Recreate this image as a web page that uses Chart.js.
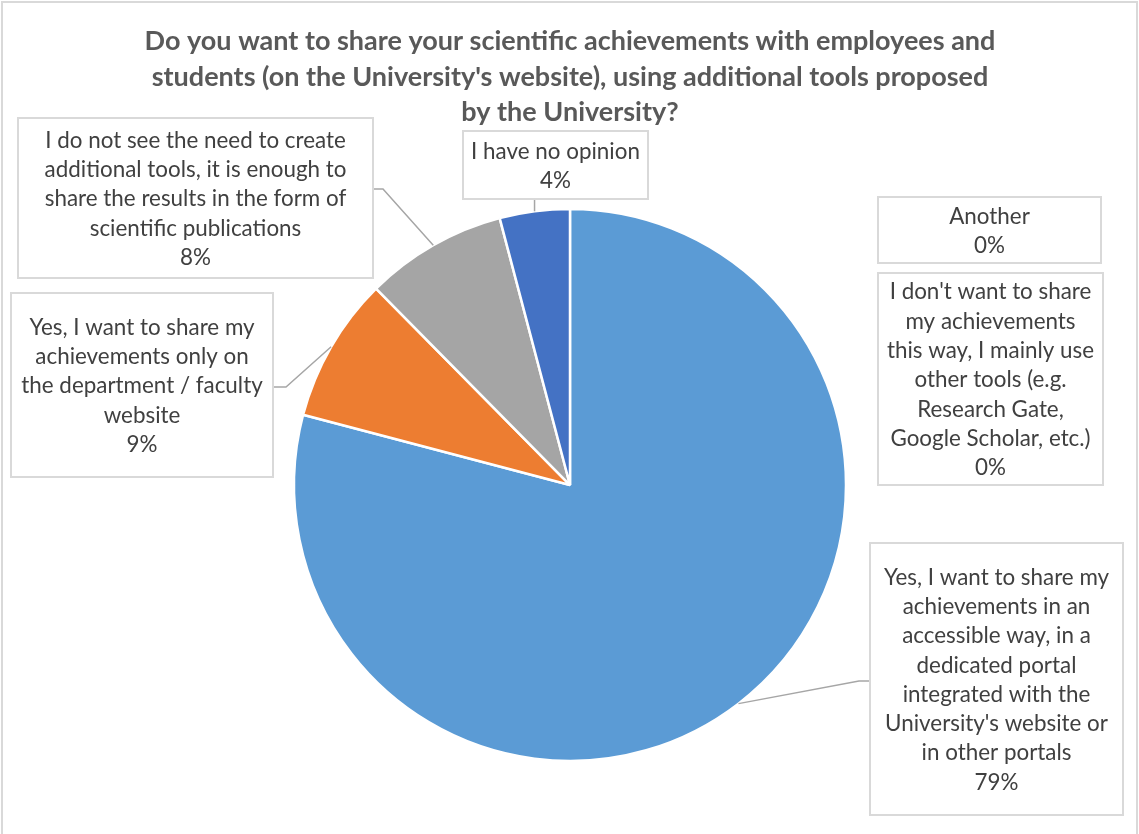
<!DOCTYPE html>
<html>
<head>
<meta charset="utf-8">
<script src="https://cdn.jsdelivr.net/npm/chart.js@4.4.1/dist/chart.umd.min.js"></script>
<style>
  html, body { margin: 0; padding: 0; background: #fff; }
  canvas { display: block; }
</style>
</head>
<body>
<canvas id="chart" width="1139" height="834"></canvas>
<script>
const TITLE = [
  'Do you want to share your scientific achievements with employees and',
  "students (on the University's website), using additional tools proposed",
  'by the University?',
];

// slice order as drawn, clockwise from 12 o'clock
const LABELS = [
  ['Yes, I want to share my', 'achievements in an', 'accessible way, in a', 'dedicated portal',
   'integrated with the', "University's website or", 'in other portals'],
  ['Yes, I want to share my', 'achievements only on', 'the department / faculty', 'website'],
  ['I do not see the need to create', 'additional tools, it is enough to',
   'share the results in the form of', 'scientific publications'],
  ['I have no opinion'],
  ['Another'],
  ["I don't want to share", 'my achievements', 'this way, I mainly use',
   'other tools (e.g.', 'Research Gate,', 'Google Scholar, etc.)'],
];
const VALUES = [79.1, 8.5, 8.3, 4.1, 0, 0];
const COLORS = ['#5b9bd5', '#ed7d31', '#a5a5a5', '#4472c4', '#ffc000', '#70ad47'];

// label box placement (x, y, w, h) and leader knee point
const BOXES = [
  { x: 870, y: 543, w: 253, h: 272, knee: [859, 681], end: [870, 681] },
  { x: 11,  y: 293, w: 262, h: 184, knee: [286, 387], end: [273, 387] },
  { x: 18,  y: 118, w: 355, h: 160, knee: [383, 189], end: [373, 189] },
  { x: 463, y: 131, w: 185, h: 68,  knee: null,       end: [534, 199] },
  { x: 878, y: 197, w: 223, h: 66 },
  { x: 878, y: 273, w: 225, h: 212 },
];

const LABEL_FONT = '22.4px Lato';
const LINE_H = 29.3;

const labelBoxes = {
  id: 'labelBoxes',
  afterDatasetsDraw(chart) {
    const ctx = chart.ctx;
    const arcs = chart.getDatasetMeta(0).data;
    ctx.save();
    // leader lines
    ctx.strokeStyle = '#a6a6a6';
    ctx.lineWidth = 1.5;
    BOXES.forEach((b, i) => {
      if (!b.end || VALUES[i] === 0) return;
      const a = arcs[i].getProps(['x', 'y', 'startAngle', 'endAngle', 'outerRadius'], true);
      const mid = (a.startAngle + a.endAngle) / 2;
      const sx = a.x + Math.cos(mid) * a.outerRadius;
      const sy = a.y + Math.sin(mid) * a.outerRadius;
      ctx.beginPath();
      ctx.moveTo(sx, sy);
      if (b.knee) {
        ctx.lineTo(b.knee[0], b.knee[1]);
        ctx.lineTo(b.end[0], b.end[1]);
      } else {
        ctx.lineTo(sx, b.end[1]);
      }
      ctx.stroke();
    });
    // boxes and text
    ctx.font = LABEL_FONT;
    ctx.textAlign = 'center';
    ctx.textBaseline = 'middle';
    BOXES.forEach((b, i) => {
      ctx.fillStyle = '#fff';
      ctx.fillRect(b.x, b.y, b.w, b.h);
      ctx.strokeStyle = '#d9d9d9';
      ctx.lineWidth = 2;
      ctx.strokeRect(b.x, b.y, b.w, b.h);
      const lines = [...LABELS[i], Math.round(VALUES[i]) + '%'];
      const cx = b.x + b.w / 2;
      const cy = b.y + b.h / 2;
      const top = cy - (lines.length - 1) * LINE_H / 2;
      ctx.fillStyle = '#404040';
      lines.forEach((t, k) => ctx.fillText(t, cx, top + k * LINE_H + 1));
    });
    ctx.restore();
  },
  afterDraw(chart) {
    const ctx = chart.ctx;
    ctx.save();
    ctx.strokeStyle = '#d9d9d9';
    ctx.lineWidth = 2;
    ctx.strokeRect(2, 2, 1135, 850);
    ctx.restore();
  }
};

new Chart(document.getElementById('chart'), {
  type: 'pie',
  data: {
    labels: LABELS.map(l => l.join(' ')),
    datasets: [{
      data: VALUES,
      backgroundColor: COLORS,
      borderColor: '#fff',
      borderWidth: 2.5,
    }]
  },
  options: {
    responsive: false,
    animation: false,
    radius: 276,
    layout: { padding: { left: 1, right: 0, top: 0, bottom: 73 } },
    plugins: {
      legend: { display: false },
      tooltip: { enabled: false },
      title: {
        display: true,
        text: TITLE,
        color: '#595959',
        font: { family: 'Lato', size: 27, weight: 'bold', lineHeight: 1.315 },
        padding: { top: 24, bottom: 78.5 },
      },
    },
  },
  plugins: [labelBoxes],
});
</script>
</body>
</html>
